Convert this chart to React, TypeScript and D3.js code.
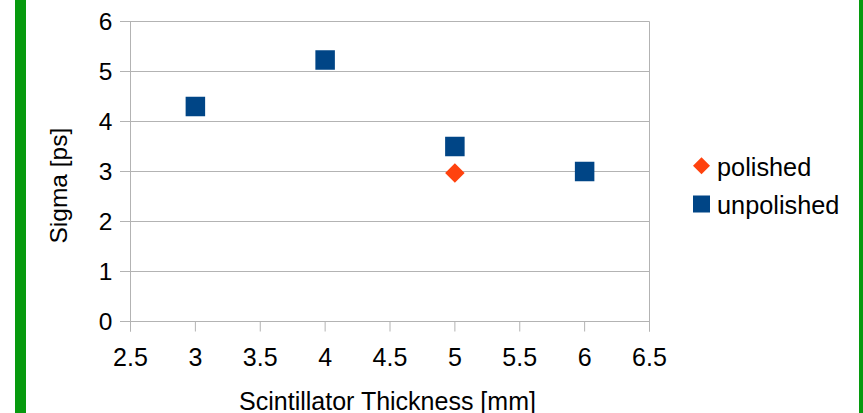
import React from "react";
import * as d3 from "d3";

const unpolishedX = [3, 4, 5, 6];
const unpolishedY = [4.3, 5.23, 3.5, 3.0];
const polishedX = [5];
const polishedY = [2.97];
const xTicks = [2.5, 3, 3.5, 4, 4.5, 5, 5.5, 6, 6.5];
const yTicks = [0, 1, 2, 3, 4, 5, 6];
const seriesNames = ["polished", "unpolished"];
const seriesColors = ["#ff420e", "#004586"];

const W = 863;
const H = 413;
const FONT = "'Liberation Sans', Arial, sans-serif";

export default function App() {
  const x = d3.scaleLinear().domain([2.5, 6.5]).range([130.5, 649.5]);
  const y = d3.scaleLinear().domain([0, 6]).range([321.5, 21.5]);
  const grid = "#b3b3b3";
  const sq = 19.5;
  const dia = 19.5;
  const diamond = (cx: number, cy: number, s: number) =>
    `M${cx},${cy - s / 2}L${cx + s / 2},${cy}L${cx},${cy + s / 2}L${cx - s / 2},${cy}Z`;

  return (
    <svg
      width={W}
      height={H}
      style={{ position: "absolute", left: 0, top: 0, background: "#fff" }}
      fontFamily={FONT}
    >
      <rect x={0} y={0} width={W} height={H} fill="#fff" />
      <rect x={15} y={0} width={11} height={H} fill="#069a0e" />
      <rect x={859} y={0} width={6} height={H} fill="#069a0e" />

      {yTicks.map((t) => (
        <g key={"y" + t}>
          <line x1={120} x2={x(6.5)} y1={y(t)} y2={y(t)} stroke={grid} strokeWidth={1} />
          <text x={112.5} y={y(t) + 8.5} textAnchor="end" fontSize={24.5} fill="#000">
            {t}
          </text>
        </g>
      ))}
      <line x1={x(2.5)} x2={x(2.5)} y1={y(6)} y2={y(0) + 10} stroke={grid} strokeWidth={1} />
      <line x1={x(6.5)} x2={x(6.5)} y1={y(6)} y2={y(0) + 10} stroke={grid} strokeWidth={1} />
      {xTicks.map((t) => (
        <g key={"x" + t}>
          <line x1={x(t)} x2={x(t)} y1={y(0)} y2={y(0) + 10} stroke={grid} strokeWidth={1} />
          <text x={x(t)} y={365.5} textAnchor="middle" fontSize={25} fill="#000">
            {t}
          </text>
        </g>
      ))}

      {unpolishedX.map((v, i) => (
        <rect
          key={"u" + i}
          x={x(v) - sq / 2}
          y={y(unpolishedY[i]) - sq / 2}
          width={sq}
          height={sq}
          fill={seriesColors[1]}
        />
      ))}
      {polishedX.map((v, i) => (
        <path key={"p" + i} d={diamond(x(v), y(polishedY[i]), dia)} fill={seriesColors[0]} />
      ))}

      <text x={387.5} y={410} textAnchor="middle" fontSize={25} fill="#000">
        Scintillator Thickness [mm]
      </text>
      <text
        transform={`translate(67,243.5) rotate(-90)`}
        textAnchor="start"
        fontSize={24.5}
        fill="#000"
      >
        Sigma [ps]
      </text>

      <path d={diamond(701.5, 165.7, 17)} fill={seriesColors[0]} />
      <text x={717} y={175.5} fontSize={25.3} fill="#000">
        {seriesNames[0]}
      </text>
      <rect x={701.5 - 8.5} y={204 - 8.5} width={17} height={17} fill={seriesColors[1]} />
      <text x={717} y={213.5} fontSize={25.3} fill="#000">
        {seriesNames[1]}
      </text>
    </svg>
  );
}
